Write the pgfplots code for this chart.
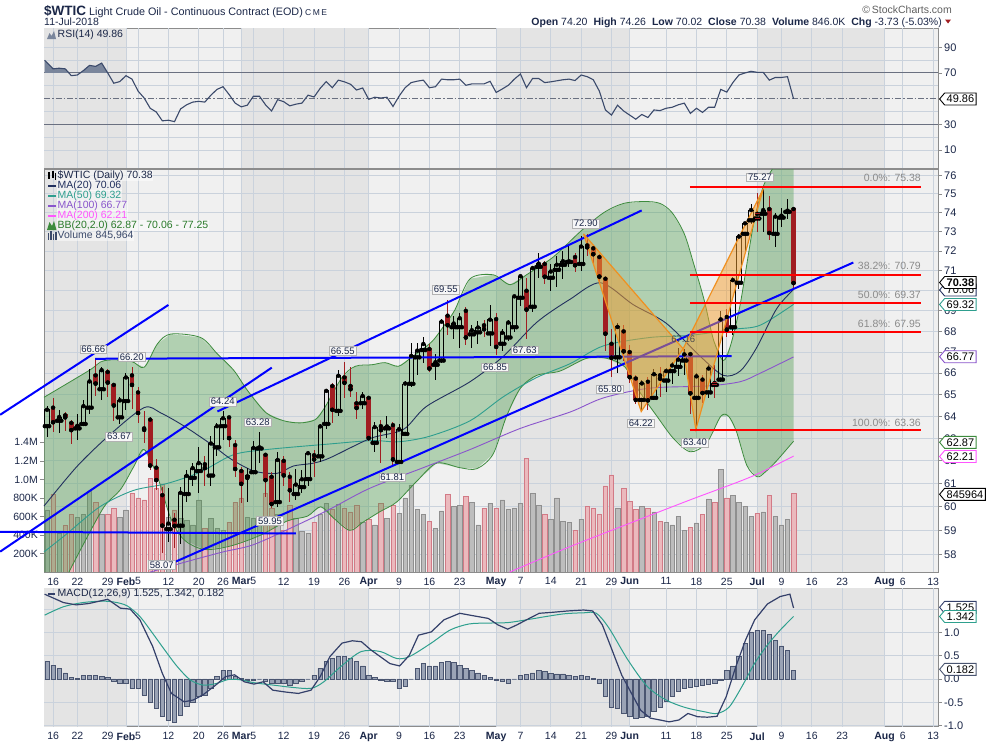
\documentclass[border=0pt]{standalone}
\usepackage{fontspec}
\setmainfont{Liberation Sans}
\usepackage{pgfplots}
\usepackage{pgfplotstable}
\pgfplotsset{compat=1.18}
\usetikzlibrary{shapes.symbols}

\definecolor{bgl}{HTML}{F0F0F0}
\definecolor{bgd}{HTML}{E4E4E4}
\definecolor{gridc}{HTML}{CAD2DC}
\definecolor{framec}{HTML}{8C8C8C}
\definecolor{txt}{HTML}{1B2748}
\definecolor{ma20}{HTML}{22305E}
\definecolor{ma50}{HTML}{2E9E8E}
\definecolor{ma100}{HTML}{8A55CC}
\definecolor{ma200}{HTML}{FF55FF}
\definecolor{bbedge}{HTML}{3D8B3D}
\definecolor{bbfill}{HTML}{3C963C}
\definecolor{bbtxt}{HTML}{2A7A2A}
\definecolor{cred}{HTML}{A11D21}
\definecolor{vdn}{HTML}{EBB9BD}
\definecolor{vdnd}{HTML}{D27A86}
\definecolor{vup}{HTML}{BDBDBD}
\definecolor{vupd}{HTML}{8F8F8F}
\definecolor{rsic}{HTML}{3B4A6B}
\definecolor{rsil}{HTML}{6A7080}
\definecolor{rsifill}{HTML}{7A869C}
\definecolor{macdc}{HTML}{34406A}
\definecolor{sigc}{HTML}{2EA08E}
\definecolor{histf}{HTML}{9AA3B5}
\definecolor{histd}{HTML}{4A5570}
\definecolor{fibt}{HTML}{8A8A8A}
\definecolor{orng}{HTML}{F5A030}
\definecolor{orngd}{HTML}{F09020}
\definecolor{trend}{HTML}{0000FF}

\newcommand\fs[1]{\fontsize{#1}{#1}\selectfont}

\pgfplotstableread{
i o h l c v r f
-1 63.55 64.45 63.05 64.30 670 0 0
0 64.40 64.85 63.30 63.73 840 1 1
1 63.80 64.30 63.25 63.97 420 0 0
2 64.05 64.20 63.35 63.95 500 1 1
3 63.70 63.85 62.75 63.37 620 1 1
4 63.45 64.10 62.95 63.57 590 0 0
5 63.65 64.75 63.55 64.47 620 0 0
6 64.40 66.20 64.10 65.61 870 0 0
7 65.90 66.66 64.93 65.51 750 1 1
8 65.25 66.30 64.75 66.14 620 0 0
9 66.05 66.20 64.90 65.56 620 1 1
10 65.45 65.50 63.80 64.50 690 1 1
11 63.95 64.90 63.67 64.73 590 0 0
12 64.70 66.00 64.30 65.80 670 0 0
13 65.90 66.30 64.35 65.45 850 1 1
14 65.10 65.35 63.70 64.15 800 1 1
15 63.45 64.25 62.80 63.39 780 1 1
16 63.85 63.95 61.60 61.79 1010 1 1
17 61.70 62.10 60.74 61.15 900 1 1
18 60.50 60.85 58.07 59.20 950 1 1
19 59.05 60.80 58.50 59.29 590 0 0
20 59.45 59.75 58.25 59.19 670 1 1
21 59.20 60.85 58.45 60.60 580 0 0
22 60.55 61.60 60.20 61.34 560 0 0
23 61.25 61.90 60.90 61.68 510 0 0
24 61.55 62.60 60.60 61.90 780 0 0
25 61.85 62.20 60.90 61.68 470 1 1
26 61.35 63.10 60.90 62.77 580 0 0
27 62.60 63.70 62.20 63.55 470 0 0
28 63.55 64.24 62.93 63.91 450 0 0
29 63.95 64.00 62.60 63.01 540 1 1
30 62.70 62.95 61.30 61.64 750 1 1
31 61.55 61.75 60.15 60.99 800 1 1
32 61.32 61.70 60.20 61.25 590 0 1
33 61.50 62.90 61.45 62.57 580 0 0
34 62.55 63.28 61.90 62.60 550 0 0
35 62.27 62.30 60.40 61.15 850 1 1
36 61.30 61.50 59.95 60.12 690 1 1
37 60.20 62.40 60.00 62.04 620 0 0
38 62.00 62.20 60.90 61.36 450 1 1
39 61.30 61.50 60.20 60.71 720 1 1
40 60.55 61.65 60.30 60.96 580 0 0
41 60.85 61.60 60.60 61.19 440 0 0
42 61.20 62.45 60.90 62.34 420 0 0
43 62.25 62.50 61.30 62.06 540 1 1
44 62.20 63.65 61.95 63.54 620 0 0
45 63.65 65.25 63.40 65.17 740 0 0
46 65.40 65.55 63.70 64.30 680 1 1
47 64.25 66.15 64.00 65.88 730 0 0
48 65.80 66.55 64.85 65.55 690 1 1
49 65.40 66.30 64.90 65.25 650 1 1
50 64.60 65.10 63.90 64.38 720 1 1
51 64.60 65.10 64.35 64.94 540 0 0
52 64.85 64.95 62.90 63.01 570 1 1
53 62.80 63.75 62.40 63.51 510 0 0
54 63.55 63.85 61.90 63.37 740 1 1
55 63.45 64.00 63.00 63.54 580 0 0
56 63.60 63.75 61.81 62.06 720 1 1
57 61.95 63.65 61.85 63.42 630 0 0
58 63.20 65.65 63.10 65.51 800 0 0
59 65.50 67.45 65.35 66.82 940 0 0
60 66.75 67.45 65.90 67.07 680 0 0
61 67.10 67.75 66.50 67.39 620 0 0
62 67.15 67.40 66.05 66.22 550 1 1
63 66.40 66.90 65.70 66.52 470 0 0
64 66.60 68.60 66.50 68.47 660 0 0
65 68.76 69.55 67.80 68.29 840 1 1
66 68.20 68.75 67.65 68.38 710 0 0
67 68.20 68.90 67.20 68.64 720 0 0
68 69.00 69.20 67.35 67.70 820 1 1
69 67.85 68.30 67.20 68.05 750 0 0
70 67.95 68.50 67.40 68.19 510 0 0
71 68.30 68.55 67.70 68.10 690 1 1
72 67.90 69.30 67.30 68.57 740 0 0
73 68.60 68.90 66.85 67.25 690 1 1
74 67.40 68.10 67.05 67.93 780 0 0
75 67.70 68.55 67.55 68.43 680 0 0
76 68.20 69.80 67.95 69.72 690 0 0
77 69.65 70.80 69.25 70.73 740 0 0
78 70.00 70.65 67.63 69.06 1230 1 1
79 69.20 71.25 68.95 71.14 850 0 0
80 71.20 71.90 70.65 71.36 720 0 0
81 71.35 71.50 70.35 70.70 620 1 1
82 70.65 71.35 70.00 70.96 570 0 0
83 71.05 71.75 70.20 71.31 800 0 0
84 71.30 72.00 70.60 71.49 550 0 0
85 71.45 72.30 71.20 71.49 540 0 0
86 71.70 71.90 70.95 71.28 450 1 1
87 71.35 72.80 71.00 72.24 570 0 0
88 72.30 72.90 71.75 72.20 710 1 1
89 72.15 72.25 71.35 71.84 690 1 1
90 71.70 71.85 70.35 70.71 620 1 1
91 70.60 70.75 67.05 67.88 930 1 1
92 67.40 68.10 65.80 66.73 1050 1 1
93 66.75 68.40 66.00 68.21 690 0 0
94 68.00 68.30 66.60 67.04 900 1 1
95 67.00 67.35 65.55 65.81 760 1 1
96 65.75 65.90 64.55 64.75 680 1 1
97 64.75 65.70 64.22 65.52 710 0 0
98 65.60 65.80 64.30 64.73 690 1 1
99 64.85 66.20 64.75 65.95 650 0 0
100 65.90 66.30 64.90 65.74 550 1 1
101 65.65 66.25 65.10 66.10 540 0 0
102 66.10 66.55 65.50 66.36 510 0 0
103 66.30 67.20 65.85 66.64 600 0 0
104 66.60 67.16 65.90 66.89 450 0 0
105 66.90 67.00 64.10 65.06 480 1 1
106 64.85 66.00 63.40 65.85 530 0 0
107 65.70 65.90 64.60 65.07 620 1 1
108 65.10 66.40 64.85 66.22 790 0 0
109 65.45 66.40 64.85 65.54 750 1 0
110 65.70 69.00 65.60 68.58 1110 0 0
111 68.70 69.10 67.70 68.08 800 1 1
112 68.20 70.70 67.80 70.53 830 0 0
113 70.40 72.90 70.10 72.76 750 0 0
114 72.90 73.50 72.00 73.45 710 0 0
115 73.60 74.45 73.40 74.15 600 0 0
116 73.70 75.05 73.00 73.94 630 1 0
117 73.95 75.27 73.00 74.14 650 0 0
118 74.20 74.90 72.60 72.94 830 1 1
119 72.90 74.00 72.20 73.80 600 0 0
120 73.75 74.25 73.25 73.85 510 0 0
121 74.05 74.75 73.65 74.11 570 0 0
122 74.20 74.26 70.02 70.38 846 1 1
}\ohlc

\pgfplotstableread{
i m
-1 0.37
0 0.30
1 0.23
2 0.13
3 0.03
4 0.02
5 0.07
6 0.08
7 0.08
8 0.06
9 0.04
10 -0.04
11 -0.09
12 -0.10
13 -0.20
14 -0.21
15 -0.34
16 -0.49
17 -0.63
18 -0.81
19 -0.88
20 -0.92
21 -0.77
22 -0.58
23 -0.49
24 -0.38
25 -0.34
26 -0.20
27 0.05
28 0.18
29 0.18
30 0.05
31 0.02
32 -0.02
33 -0.03
34 0.00
35 -0.05
36 -0.09
37 -0.10
38 -0.10
39 -0.13
40 -0.10
41 -0.05
42 0.00
43 0.08
44 0.23
45 0.37
46 0.44
47 0.49
48 0.49
49 0.44
50 0.37
51 0.28
52 0.08
53 0.04
54 -0.03
55 -0.04
56 -0.05
57 -0.20
58 -0.16
59 0.00
60 0.23
61 0.34
62 0.28
63 0.28
64 0.35
65 0.37
66 0.35
67 0.30
68 0.23
69 0.19
70 0.13
71 0.08
72 0.04
73 -0.03
74 -0.05
75 -0.09
76 0.00
77 0.08
78 0.10
79 0.13
80 0.18
81 0.16
82 0.12
83 0.11
84 0.11
85 0.08
86 0.06
87 0.07
88 0.05
89 0.02
90 -0.09
91 -0.38
92 -0.60
93 -0.63
94 -0.74
95 -0.81
96 -0.85
97 -0.82
98 -0.80
99 -0.70
100 -0.60
101 -0.48
102 -0.38
103 -0.27
104 -0.20
105 -0.18
106 -0.15
107 -0.13
108 -0.11
109 -0.09
110 -0.02
111 0.18
112 0.28
113 0.49
114 0.76
115 1.01
116 1.04
117 1.04
118 0.96
119 0.82
120 0.71
121 0.62
122 0.18
}\hist

\pgfplotsset{
  panel/.style={scale only axis, width=894pt, xmin=-1.5, xmax=145.8, anchor=north west,
    axis line style={draw=framec, line width=0.8pt}, xtick=\empty, ytick=\empty,
    tick align=outside, major tick length=4pt, tick style={draw=framec, line width=0.6pt},
    yticklabel style={font=\fs{11}, text=txt, inner sep=2pt}},
  dates/.style={xtick={0,4,9,12,14,19,24,28,31,33,38,43,48,52,57,62,67,73,77,82,87,92,95,101,106,111,116,120,125,130,137,140,145},
    xticklabels={16,22,29,\textbf{Feb},5,12,20,26,\textbf{Mar},5,12,19,26,\textbf{Apr},9,16,23,\textbf{May},7,14,21,29,\textbf{Jun},11,18,25,\textbf{Jul},9,16,23,\textbf{Aug},6,13},
    xticklabel style={font=\fs{10.5}, text=txt, inner sep=1.5pt}, major x tick style={draw=none}},
}

\newcommand\vtag[4][]{\node[signal, signal to=west, signal pointer angle=100, draw=#3, line width=0.9pt, fill=white, inner xsep=2pt, inner ysep=0.5pt, minimum height=12pt, anchor=west, font=\fs{11}#1, text=black] at (939,-#2) {#4};}
\newcommand\callout[3]{\node[draw=gray!60, fill=white!94!gray, inner xsep=1.5pt, inner ysep=1pt, font=\fs{9.5}, text=txt] at (#1,-#2) {#3};}

\begin{document}
\begin{tikzpicture}[x=1pt,y=1pt]
\path[use as bounding box] (0,0) rectangle (990,-744);
\fill[white] (0,0) rectangle (990,-744);

%================ RSI panel
\begin{axis}[panel, at={(44pt,-28pt)}, height=140pt, ymin=-4, ymax=105,
  axis background/.style={fill=bgl},
  ytick={10,30,70,90}, yticklabels={10,30,70,90}, ytick pos=right, yticklabel pos=right]
\fill[bgd] (axis cs:-1.5,-4) rectangle (axis cs:12,105);
\fill[bgd] (axis cs:31,-4) rectangle (axis cs:52,105);
\fill[bgd] (axis cs:73,-4) rectangle (axis cs:95,105);
\fill[bgd] (axis cs:116,-4) rectangle (axis cs:137,105);
\pgfplotsinvokeforeach{10,20,40,60,80,90}{\draw[gridc, line width=0.7pt] (axis cs:-1.5,#1) -- (axis cs:145.8,#1);}
\pgfplotsinvokeforeach{0,4,9,12,14,19,24,28,31,33,38,43,48,52,57,62,67,73,77,82,87,92,95,101,106,111,116,120,125,130,137,140,145}{\draw[gridc, line width=0.7pt] (axis cs:#1,-4) -- (axis cs:#1,105);}
\draw[rsil, line width=1pt] (axis cs:-1.5,70) -- (axis cs:145.8,70);
\draw[rsil, line width=1pt] (axis cs:-1.5,30) -- (axis cs:145.8,30);
\draw[rsil, line width=0.8pt, dash pattern=on 6pt off 2pt on 1.5pt off 2pt] (axis cs:-1.5,50) -- (axis cs:145.8,50);
\addplot[fill=rsifill, draw=none] coordinates {(-1.4,70)(-1.4,79.9)(0,73.2)(1,73.7)(2,73.2)(2.6,70)};
\addplot[fill=rsifill, draw=none] coordinates {(4.46,70)(5,71.9)(6,75.9)(7,75.1)(8,77.7)(9,70)};
\addplot[fill=rsifill, draw=none] coordinates {(114,70)(115,71.3)(116,70.5)(117,70.5)(117.08,70)};
\addplot[rsic, line width=1.1pt] coordinates {(-1.4,79.9)(0,73.2)(1,73.7)(2,73.2)(3,67.9)(4,68.4)(5,71.9)(6,75.9)(7,75.1)(8,77.7)(9,70)(10,62)(11,63.3)(12,67.9)(13,65.2)(14,55.9)(15,50.5)(16,42.5)(17,39.6)(18,32.7)(19,33.2)(20,32.1)(21,42)(22,45.2)(23,47.3)(24,47.9)(25,47.3)(26,52.7)(27,57.2)(28,59.3)(29,53.2)(30,46.5)(31,43.6)(32,44.9)(33,51.9)(34,51.9)(35,45.2)(36,40.4)(37,49.2)(38,47.6)(39,44.4)(40,45.7)(41,46.5)(42,52.7)(43,51.3)(44,58)(45,63.3)(46,58.5)(47,64.4)(48,63.1)(49,61.2)(50,56.7)(51,58.3)(52,49.5)(53,51.1)(54,50.5)(55,51.1)(56,43.9)(57,51.9)(58,58.5)(59,62.5)(60,63.6)(61,64.4)(62,58.5)(63,59.3)(64,65.2)(65,64.7)(66,64.7)(67,65.2)(68,60.4)(69,61.5)(70,61.5)(71,61.5)(72,63.5)(73,54.8)(74,57.5)(75,60.4)(76,65.2)(77,69.2)(78,58.5)(79,65.7)(80,65.7)(81,62.5)(82,63.1)(83,63.9)(84,64.7)(85,65.2)(86,64.1)(87,68.4)(88,67.1)(89,64.7)(90,55.9)(91,41.2)(92,37.2)(93,44.9)(94,40.4)(95,37.2)(96,34)(97,37.7)(98,35.3)(99,41.2)(100,40.7)(101,42.5)(102,43.3)(103,45.2)(104,46.5)(105,38.5)(106,42.5)(107,39.3)(108,43.3)(109,43.3)(110,57.2)(111,55.1)(112,62.5)(113,68.4)(114,70)(115,71.3)(116,70.5)(117,70.5)(118,64.4)(119,66.5)(120,66.5)(121,67.1)(122,49.86)};
\end{axis}

%================ Price background (y axis in natural-log units of the price)
\begin{axis}[panel, at={(44pt,-169pt)}, height=403pt, ymin=4.047777, ymax=4.335197,
  axis background/.style={fill=bgl}]
\fill[bgd] (axis cs:-1.5,4.047777) rectangle (axis cs:12,4.335197);
\fill[bgd] (axis cs:31,4.047777) rectangle (axis cs:52,4.335197);
\fill[bgd] (axis cs:73,4.047777) rectangle (axis cs:95,4.335197);
\fill[bgd] (axis cs:116,4.047777) rectangle (axis cs:137,4.335197);
\pgfplotsinvokeforeach{4.060443,4.077537,4.094345,4.110874,4.127134,4.143135,4.158883,4.174387,4.189655,4.204693,4.219508,4.234107,4.248495,4.262680,4.276666,4.290459,4.304065,4.317488,4.330733}{\draw[gridc, line width=0.7pt] (axis cs:-1.5,#1) -- (axis cs:145.8,#1);}
\pgfplotsinvokeforeach{0,4,9,12,14,19,24,28,31,33,38,43,48,52,57,62,67,73,77,82,87,92,95,101,106,111,116,120,125,130,137,140,145}{\draw[gridc, line width=0.7pt] (axis cs:#1,4.047777) -- (axis cs:#1,4.335197);}
\end{axis}

%================ Volume
\begin{axis}[panel, at={(44pt,-169pt)}, height=403pt, ymin=0, ymax=4352, axis line style={draw=none},
  ytick={200,400,600,800,1000,1200,1400}, yticklabels={200K,400K,600K,800K,1.0M,1.2M,1.4M},
  ytick pos=left, yticklabel pos=left, yticklabel style={font=\fs{10.5}}]
\addplot[ybar, bar width=4.4pt, bar shift=0pt, fill=vup, draw=vupd, line width=0.5pt,
  restrict expr to domain={\thisrow{r}}{-0.5:0.5}] table[x=i, y=v] {\ohlc};
\addplot[ybar, bar width=4.4pt, bar shift=0pt, fill=vdn, draw=vdnd, line width=0.5pt,
  restrict expr to domain={\thisrow{r}}{0.5:1.5}] table[x=i, y=v] {\ohlc};
\end{axis}

%================ Price main: prices are given as plain numbers, plotted on a logarithmic scale via ln()
\begin{axis}[panel, dates, at={(44pt,-169pt)}, height=403pt, ymin=4.047777, ymax=4.335197, clip=false,
  y filter/.expression={ln(y)},
  ytick={4.060443,4.077537,4.094345,4.110874,4.127134,4.143135,4.158883,4.174387,4.189655,4.204693,4.219508,4.234107,4.248495,4.262680,4.276666,4.290459,4.304065,4.317488,4.330733},
  yticklabels={58,59,60,61,62,63,64,65,66,67,68,69,70,71,72,73,74,75,76},
  ytick pos=right, yticklabel pos=right]
% Bollinger band area (upper band forward, lower band back)
\addplot[fill=bbfill, fill opacity=0.35, draw=none] coordinates {(-1.5,64.87)(5.9,66.12)(8.4,66.59)(12.8,66.57)(15,66.28)(17.2,67.4)(19.4,67.87)(24.3,67.7)(27.1,66.9)(29.8,66.12)(32,65.2)(35.1,64.16)(38,63.8)(40.7,63.7)(43.2,63.85)(44.8,64.42)(47.6,65.8)(49.8,66.33)(52.5,66.4)(54.7,66.5)(56.9,66.33)(59.1,66.76)(62.4,67.5)(64.6,68.35)(66.2,69.05)(68.7,70.6)(72.5,70.8)(75.3,70.3)(78,70.8)(82.4,71.7)(86.8,73.0)(90.7,74.0)(94,74.5)(97.5,74.6)(100,74.5)(102,74.0)(104,72.9)(105.5,71.4)(107.3,69.5)(108.8,67.6)(110.4,66.6)(111.6,67.3)(113.2,69.3)(115.4,73.4)(117,75.4)(118.5,76.34)(122,76.34)
 (122,62.87)(119.2,62.0)(117.3,61.5)(116,61.3)(114.3,61.8)(112.6,63.3)(111.3,64.0)(110,64.0)(107.7,62.8)(105,62.4)(102.2,63.0)(99.5,64.0)(96.7,65.1)(94.2,66.3)(91.2,66.7)(87.9,66.7)(83.5,66.1)(79.7,65.9)(77,65.3)(74.7,64.0)(72.5,62.3)(69.8,61.65)(67,61.7)(63.2,61.9)(59.9,61.1)(56.6,60.2)(53.9,59.8)(51.1,59.35)(48.9,59.0)(46.3,59.5)(44.1,60.0)(41.9,59.6)(38.6,59.4)(34.2,58.8)(29.3,58.35)(24.9,58.2)(21.6,58.6)(19.4,59.5)(17.2,61.3)(15,62.5)(13.3,61.75)(11.1,60.74)(8.4,60.0)(5.1,58.47)(2.6,57.27)(-1.5,57.27)};
\addplot[bbedge, line width=0.8pt, smooth] coordinates {(-1.5,64.87)(5.9,66.12)(8.4,66.59)(12.8,66.57)(15,66.28)(17.2,67.4)(19.4,67.87)(24.3,67.7)(27.1,66.9)(29.8,66.12)(32,65.2)(35.1,64.16)(38,63.8)(40.7,63.7)(43.2,63.85)(44.8,64.42)(47.6,65.8)(49.8,66.33)(52.5,66.4)(54.7,66.5)(56.9,66.33)(59.1,66.76)(62.4,67.5)(64.6,68.35)(66.2,69.05)(68.7,70.6)(72.5,70.8)(75.3,70.3)(78,70.8)(82.4,71.7)(86.8,73.0)(90.7,74.0)(94,74.5)(97.5,74.6)(100,74.5)(102,74.0)(104,72.9)(105.5,71.4)(107.3,69.5)(108.8,67.6)(110.4,66.6)(111.6,67.3)(113.2,69.3)(115.4,73.4)(117,75.4)(118.5,76.34)};
\addplot[bbedge, line width=0.8pt, smooth] coordinates {(2.6,57.27)(5.1,58.47)(8.4,60.0)(11.1,60.74)(13.3,61.75)(15,62.5)(17.2,61.3)(19.4,59.5)(21.6,58.6)(24.9,58.2)(29.3,58.35)(34.2,58.8)(38.6,59.4)(41.9,59.6)(44.1,60.0)(46.3,59.5)(48.9,59.0)(51.1,59.35)(53.9,59.8)(56.6,60.2)(59.9,61.1)(63.2,61.9)(67,61.7)(69.8,61.65)(72.5,62.3)(74.7,64.0)(77,65.3)(79.7,65.9)(83.5,66.1)(87.9,66.7)(91.2,66.7)(94.2,66.3)(96.7,65.1)(99.5,64.0)(102.2,63.0)(105,62.4)(107.7,62.8)(110,64.0)(111.3,64.0)(112.6,63.3)(114.3,61.8)(116,61.3)(117.3,61.5)(119.2,62.0)(122,62.87)};
% moving averages
\addplot[ma200, line width=0.9pt, smooth] coordinates {(75.2,57.27)(85,58.3)(95,59.3)(105,60.3)(115,61.3)(122,62.21)};
\addplot[ma100, line width=0.9pt, smooth] coordinates {(16,57.27)(22,57.7)(28,58.1)(33,58.4)(40,59.2)(45.6,59.9)(52.2,60.8)(61,61.7)(68.7,62.5)(77,63.45)(85.2,64.2)(90.7,64.85)(98.3,65.3)(107.7,65.4)(113.2,65.6)(116.5,66.0)(122,66.77)};
\addplot[ma50, line width=0.9pt, smooth] coordinates {(-1.5,58.1)(2,58.8)(7.7,60.0)(13.2,60.7)(18.7,61.0)(24.2,61.5)(29.7,62.27)(35.2,62.5)(45.6,62.75)(52.5,62.9)(57,62.85)(62.1,63.1)(68.7,63.8)(74.2,64.9)(79.7,65.8)(85.2,66.45)(90.7,67.3)(98.3,67.7)(104.9,67.8)(112.1,68.1)(116.5,68.3)(122,69.32)};
\addplot[ma20, line width=0.9pt, smooth] coordinates {(-1.5,60.03)(4,61.77)(9.5,63.2)(15,64.4)(17.7,64.16)(21.6,63.55)(26,62.74)(29.3,62.08)(33.1,61.55)(36.9,61.45)(39.6,61.77)(42.9,61.9)(45.6,62.13)(52.3,63.0)(57.7,63.4)(61.5,64.45)(68.7,65.6)(74.2,66.8)(79.7,68.44)(85.2,69.58)(90.2,70.4)(95.6,69.3)(101,68.4)(106.6,66.8)(110.4,65.9)(113.2,66.1)(115.9,67.2)(119.2,69.1)(122,70.06)};
% candles: wicks
\addplot[only marks, mark=none, forget plot, restrict expr to domain={\thisrow{r}}{-0.5:0.5},
  error bars/y dir=plus, error bars/y explicit, error bars/error mark=none,
  error bars/error bar style={line width=1pt, draw=black}]
  table[x=i, y expr={max(\thisrow{o},\thisrow{c})}, y error plus expr={ln(\thisrow{h})-ln(max(\thisrow{o},\thisrow{c}))}] {\ohlc};
\addplot[only marks, mark=none, forget plot, restrict expr to domain={\thisrow{r}}{-0.5:0.5},
  error bars/y dir=minus, error bars/y explicit, error bars/error mark=none,
  error bars/error bar style={line width=1pt, draw=black}]
  table[x=i, y expr={min(\thisrow{o},\thisrow{c})}, y error minus expr={ln(min(\thisrow{o},\thisrow{c}))-ln(\thisrow{l})}] {\ohlc};
\addplot[only marks, mark=none, forget plot, restrict expr to domain={\thisrow{r}}{0.5:1.5},
  error bars/y dir=plus, error bars/y explicit, error bars/error mark=none,
  error bars/error bar style={line width=1pt, draw=cred}]
  table[x=i, y expr={max(\thisrow{o},\thisrow{c})}, y error plus expr={ln(\thisrow{h})-ln(max(\thisrow{o},\thisrow{c}))}] {\ohlc};
\addplot[only marks, mark=none, forget plot, restrict expr to domain={\thisrow{r}}{0.5:1.5},
  error bars/y dir=minus, error bars/y explicit, error bars/error mark=none,
  error bars/error bar style={line width=1pt, draw=cred}]
  table[x=i, y expr={min(\thisrow{o},\thisrow{c})}, y error minus expr={ln(min(\thisrow{o},\thisrow{c}))-ln(\thisrow{l})}] {\ohlc};
% filled bodies
\addplot[only marks, mark=none, forget plot, restrict expr to domain={2*\thisrow{f}+\thisrow{r}}{2.5:3.5},
  error bars/y dir=plus, error bars/y explicit, error bars/error mark=none,
  error bars/error bar style={line width=4.6pt, draw=cred}]
  table[x=i, y=c, y error plus expr={ln(\thisrow{o})-ln(\thisrow{c})+0.0007}] {\ohlc};
\addplot[only marks, mark=none, forget plot, restrict expr to domain={2*\thisrow{f}+\thisrow{r}}{1.5:2.5},
  error bars/y dir=plus, error bars/y explicit, error bars/error mark=none,
  error bars/error bar style={line width=4.6pt, draw=black}]
  table[x=i, y=c, y error plus expr={ln(\thisrow{o})-ln(\thisrow{c})+0.0007}] {\ohlc};
% hollow bodies (black)
\addplot[only marks, mark=none, forget plot, restrict expr to domain={2*\thisrow{f}+\thisrow{r}}{-0.5:0.5},
  error bars/y dir=plus, error bars/y explicit, error bars/error mark=none,
  error bars/error bar style={line width=0.9pt, draw=black}]
  table[x expr=\thisrow{i}-0.36, y=o, y error plus expr={ln(\thisrow{c})-ln(\thisrow{o})}] {\ohlc};
\addplot[only marks, mark=none, forget plot, restrict expr to domain={2*\thisrow{f}+\thisrow{r}}{-0.5:0.5},
  error bars/y dir=plus, error bars/y explicit, error bars/error mark=none,
  error bars/error bar style={line width=0.9pt, draw=black}]
  table[x expr=\thisrow{i}+0.36, y=o, y error plus expr={ln(\thisrow{c})-ln(\thisrow{o})}] {\ohlc};
\addplot[only marks, mark=-, mark size=2.6pt, mark options={draw=black, line width=0.9pt}, forget plot,
  restrict expr to domain={2*\thisrow{f}+\thisrow{r}}{-0.5:0.5}] table[x=i, y=o] {\ohlc};
\addplot[only marks, mark=-, mark size=2.6pt, mark options={draw=black, line width=0.9pt}, forget plot,
  restrict expr to domain={2*\thisrow{f}+\thisrow{r}}{-0.5:0.5}] table[x=i, y=c] {\ohlc};
% hollow bodies (red)
\addplot[only marks, mark=none, forget plot, restrict expr to domain={2*\thisrow{f}+\thisrow{r}}{0.5:1.5},
  error bars/y dir=plus, error bars/y explicit, error bars/error mark=none,
  error bars/error bar style={line width=0.9pt, draw=cred}]
  table[x expr=\thisrow{i}-0.36, y=o, y error plus expr={ln(\thisrow{c})-ln(\thisrow{o})}] {\ohlc};
\addplot[only marks, mark=none, forget plot, restrict expr to domain={2*\thisrow{f}+\thisrow{r}}{0.5:1.5},
  error bars/y dir=plus, error bars/y explicit, error bars/error mark=none,
  error bars/error bar style={line width=0.9pt, draw=cred}]
  table[x expr=\thisrow{i}+0.36, y=o, y error plus expr={ln(\thisrow{c})-ln(\thisrow{o})}] {\ohlc};
\addplot[only marks, mark=-, mark size=2.6pt, mark options={draw=cred, line width=0.9pt}, forget plot,
  restrict expr to domain={2*\thisrow{f}+\thisrow{r}}{0.5:1.5}] table[x=i, y=o] {\ohlc};
\addplot[only marks, mark=-, mark size=2.6pt, mark options={draw=cred, line width=0.9pt}, forget plot,
  restrict expr to domain={2*\thisrow{f}+\thisrow{r}}{0.5:1.5}] table[x=i, y=c] {\ohlc};
% trend lines
\addplot[trend, line width=2pt] coordinates {(-8.73,64.07)(19.0,69.29)};
\addplot[trend, line width=2pt] coordinates {(-8.73,58.11)(36.03,66.26)};
\addplot[trend, line width=2pt] coordinates {(27.07,64.22)(96.98,74.13)};
\addplot[trend, line width=2pt] coordinates {(17.74,57.43)(131.85,71.42)};
\addplot[trend, line width=2pt] coordinates {(-8.73,58.94)(39.98,58.87)};
\addplot[trend, line width=2pt] coordinates {(6.92,66.68)(111.81,66.8)};
% harmonic pattern
\addplot[fill=orng, fill opacity=0.5, draw=orngd, line width=1.2pt] coordinates {(87.4,72.9)(96.9,64.22)(103.8,67.16)(87.4,72.9)};
\addplot[fill=orng, fill opacity=0.5, draw=orngd, line width=1.2pt] coordinates {(103.8,67.16)(105.9,63.40)(117.0,75.27)(103.8,67.16)};
% Fibonacci
\addplot[red, line width=1.8pt] coordinates {(104.9,75.38)(143,75.38)};
\addplot[red, line width=1.8pt] coordinates {(104.9,70.79)(143,70.79)};
\addplot[red, line width=1.8pt] coordinates {(104.9,69.37)(143,69.37)};
\addplot[red, line width=1.8pt] coordinates {(104.9,67.95)(143,67.95)};
\addplot[red, line width=1.8pt] coordinates {(104.9,63.36)(143,63.36)};
\end{axis}

%================ MACD panel
\begin{axis}[panel, dates, at={(44pt,-588.3pt)}, height=138.4pt, ymin=-1.024, ymax=1.946,
  axis background/.style={fill=bgl},
  ytick={-1,-0.5,0,0.5,1}, yticklabels={-1.0,-0.5,0.0,0.5,1.0}, ytick pos=right, yticklabel pos=right]
\fill[bgd] (axis cs:-1.5,-1.024) rectangle (axis cs:12,1.946);
\fill[bgd] (axis cs:31,-1.024) rectangle (axis cs:52,1.946);
\fill[bgd] (axis cs:73,-1.024) rectangle (axis cs:95,1.946);
\fill[bgd] (axis cs:116,-1.024) rectangle (axis cs:137,1.946);
\pgfplotsinvokeforeach{-1,-0.5,0,0.5,1,1.5}{\draw[gridc, line width=0.7pt] (axis cs:-1.5,#1) -- (axis cs:145.8,#1);}
\pgfplotsinvokeforeach{0,4,9,12,14,19,24,28,31,33,38,43,48,52,57,62,67,73,77,82,87,92,95,101,106,111,116,120,125,130,137,140,145}{\draw[gridc, line width=0.7pt] (axis cs:#1,-1.024) -- (axis cs:#1,1.946);}
\addplot[ybar, bar width=4.4pt, bar shift=0pt, fill=histf, draw=histd, line width=0.6pt] table[x=i, y=m] {\hist};
\addplot[sigc, line width=1pt, smooth] coordinates {(-1.4,1.37)(1.7,1.55)(4.9,1.64)(8.0,1.67)(10.1,1.65)(12.2,1.57)(14.3,1.34)(16.4,0.98)(18.4,0.62)(20.5,0.26)(22.6,-0.02)(24.7,-0.13)(26.8,-0.10)(28.9,-0.01)(31.0,-0.02)(33.1,-0.08)(36.2,-0.13)(39.4,-0.18)(42.5,-0.20)(44.6,-0.06)(47.7,0.30)(50.8,0.59)(53.9,0.59)(56.6,0.44)(58.7,0.48)(62.3,0.77)(65.4,1.05)(68.5,1.18)(71.7,1.20)(74.9,1.21)(78.0,1.27)(81.2,1.34)(84.3,1.40)(87.4,1.42)(89.5,1.41)(91.6,1.09)(94.7,0.41)(97.9,-0.16)(101.0,-0.45)(104.1,-0.61)(107.2,-0.70)(109.4,-0.74)(111.4,-0.60)(113.5,-0.16)(115.6,0.34)(117.7,0.73)(119.8,1.05)(122,1.342)};
\addplot[macdc, line width=1.2pt] coordinates {(-1.4,1.82)(1.7,1.64)(3.8,1.59)(5.9,1.62)(9.0,1.71)(11.1,1.52)(12.7,1.50)(14.3,1.27)(16.4,0.70)(18.0,0.12)(19.5,-0.31)(21.6,-0.49)(23.1,-0.45)(24.7,-0.34)(26.8,-0.13)(28.4,0.05)(29.9,0.09)(31.5,-0.06)(33.1,-0.11)(34.6,-0.06)(36.2,-0.24)(38.3,-0.28)(40.4,-0.31)(42.5,-0.24)(44.0,0.05)(45.6,0.48)(47.6,0.77)(49.3,0.82)(50.8,0.80)(52.4,0.62)(53.9,0.48)(55.5,0.33)(57.1,0.28)(58.7,0.51)(60.2,0.94)(62.3,1.01)(64.4,1.27)(67.0,1.41)(69.1,1.36)(71.7,1.30)(73.3,1.16)(74.9,1.07)(76.4,1.16)(78.0,1.27)(80.1,1.41)(82.2,1.43)(84.8,1.46)(87.4,1.48)(88.9,1.46)(90.5,1.16)(92.1,0.62)(93.7,0.08)(95.3,-0.31)(96.8,-0.67)(98.4,-0.84)(100.0,-0.88)(101.5,-0.92)(103.1,-0.88)(104.6,-0.74)(106.2,-0.81)(107.8,-0.82)(109.4,-0.80)(110.9,-0.38)(112.5,0.27)(114.1,0.84)(115.6,1.27)(117.7,1.61)(119.8,1.77)(121.4,1.82)(122,1.525)};
\end{axis}

%================ Texts
\node[anchor=base west, font=\fs{13.5}\bfseries, text=txt, inner sep=0] at (44,-15.5) {\$WTIC};
\node[anchor=base west, font=\fs{10.8}, text=txt, inner sep=0] at (89,-15.5) {Light Crude Oil - Continuous Contract (EOD)};
\node[anchor=base west, font=\fs{8.5}, text=txt, inner sep=0] at (305,-15.5) {C\,M\,E};
\node[anchor=base west, font=\fs{10.5}, text=txt, inner sep=0] at (44,-25.5) {11-Jul-2018};
\node[anchor=base east, font=\fs{10.5}, text=gray!75!black, inner sep=0] at (952,-13.5) {\textcopyright\,StockCharts.com};
\node[anchor=base east, font=\fs{10.5}, text=txt, inner sep=0] at (942,-25.5) {\textbf{Open} 74.20\hspace{6pt}\textbf{High} 74.26\hspace{6pt}\textbf{Low} 70.02\hspace{6pt}\textbf{Close} 70.38\hspace{6pt}\textbf{Volume} 846.0K\hspace{6pt}\textbf{Chg} -3.73 (-5.03\%)};
\fill[cred] (945,-19.5) -- (951,-19.5) -- (948,-23.5) -- cycle;

% RSI label
\fill[rsifill] (47,-39) -- (49.5,-33) -- (51.5,-36) -- (54,-31) -- (56,-39) -- cycle;
\node[anchor=west, font=\fs{10.5}, text=txt, inner sep=0.5pt] at (57,-34.5) {RSI(14) 49.86};

% price legend
\fill[black] (48,-172) rectangle (50,-179); \fill[black] (51.5,-171) rectangle (53.5,-178); \fill[black] (55,-173) rectangle (56,-180);
\node[anchor=west, font=\fs{10.5}, text=txt, fill=white, fill opacity=0.5, text opacity=1, inner sep=0.5pt] at (57,-175.7) {\$WTIC (Daily) 70.38};
\draw[ma20, line width=2pt] (48,-185.7) -- (56,-185.7);
\node[anchor=west, font=\fs{10.5}, text=ma20, fill=white, fill opacity=0.5, text opacity=1, inner sep=0.5pt] at (57,-185.7) {MA(20) 70.06};
\draw[ma50, line width=2pt] (48,-195.7) -- (56,-195.7);
\node[anchor=west, font=\fs{10.5}, text=ma50, fill=white, fill opacity=0.5, text opacity=1, inner sep=0.5pt] at (57,-195.7) {MA(50) 69.32};
\draw[ma100, line width=2pt] (48,-205.7) -- (56,-205.7);
\node[anchor=west, font=\fs{10.5}, text=ma100, fill=white, fill opacity=0.5, text opacity=1, inner sep=0.5pt] at (57,-205.7) {MA(100) 66.77};
\draw[ma200, line width=2pt] (48,-215.7) -- (56,-215.7);
\node[anchor=west, font=\fs{10.5}, text=ma200, fill=white, fill opacity=0.5, text opacity=1, inner sep=0.5pt] at (57,-215.7) {MA(200) 62.21};
\fill[bbedge] (47,-230) -- (49.5,-222) -- (52,-226) -- (54,-221) -- (56.5,-230) -- cycle;
\node[anchor=west, font=\fs{10.5}, text=bbtxt, fill=white, fill opacity=0.5, text opacity=1, inner sep=0.5pt] at (57,-225.7) {BB(20,2.0) 62.87 - 70.06 - 77.25};
\fill[rsic] (47.5,-240) rectangle (49,-233); \fill[rsic] (50,-240) rectangle (51.5,-231); \fill[rsic] (52.5,-240) rectangle (54,-234); \fill[rsic] (55,-240) rectangle (56.5,-232);
\node[anchor=west, font=\fs{10.5}, text=rsic, fill=white, fill opacity=0.5, text opacity=1, inner sep=0.5pt] at (57,-235.7) {Volume 845,964};

% MACD label
\draw[macdc, line width=2pt] (48,-594) -- (55,-594);
\node[anchor=west, font=\fs{10.5}, text=txt, inner sep=0.5pt] at (57,-594) {MACD(12,26,9) 1.525, 1.342, 0.182};

% callouts
\callout{93.3}{349.3}{66.66}
\callout{131.7}{357}{66.20}
\callout{119}{436.7}{63.67}
\callout{222.7}{401.7}{64.24}
\callout{257.7}{422.3}{63.28}
\callout{270}{521}{59.95}
\callout{161.7}{565}{58.07}
\callout{342.7}{351}{66.55}
\callout{392.3}{477.3}{61.81}
\callout{445.7}{289.7}{69.55}
\callout{495}{367.3}{66.85}
\callout{524.7}{350.3}{67.63}
\callout{585.7}{223.7}{72.90}
\callout{610}{389.3}{65.80}
\callout{640.7}{423.3}{64.22}
\callout{695}{442.7}{63.40}
\callout{760}{177.3}{75.27}
\node[font=\fs{9.5}, text=gray!60!black] at (683.3,-339.3) {67.16};

% Fibonacci labels
\node[anchor=east, font=\fs{10.5}, text=fibt, inner sep=0] at (921,-178.3) {0.0\%: 75.38};
\node[anchor=east, font=\fs{10.5}, text=fibt, inner sep=0] at (921,-266) {38.2\%: 70.79};
\node[anchor=east, font=\fs{10.5}, text=fibt, inner sep=0] at (921,-295) {50.0\%: 69.37};
\node[anchor=east, font=\fs{10.5}, text=fibt, inner sep=0] at (921,-324.3) {61.8\%: 67.95};
\node[anchor=east, font=\fs{10.5}, text=fibt, inner sep=0] at (921,-423.3) {100.0\%: 63.36};

% right tags
\vtag{99}{black}{49.86}
\vtag{290}{ma20}{70.06}
\vtag[\bfseries]{282.5}{black}{70.38}
\vtag{304.5}{ma50}{69.32}
\vtag{356.7}{ma100}{66.77}
\vtag{442.3}{bbedge}{62.87}
\vtag{456.5}{ma200}{62.21}
\vtag{494.3}{black}{845964}
\vtag{607.3}{macdc}{1.525}
\vtag{616.5}{sigc}{1.342}
\vtag{669.3}{histd}{0.182}
\end{tikzpicture}
\end{document}
